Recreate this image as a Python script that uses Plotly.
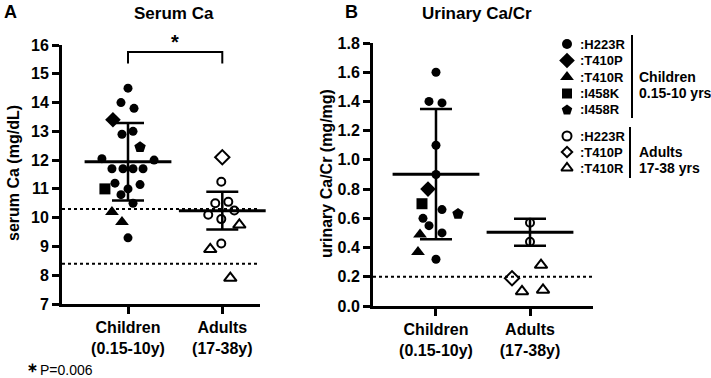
import numpy as np
import plotly.graph_objects as go

W, H = 711, 378
FONT = "Liberation Sans, Arial, sans-serif"

categories = ["Children<br>(0.15-10y)", "Adults<br>(17-38y)"]
genotypes = [":H223R", ":T410P", ":T410R", ":I458K", ":I458R"]

# ---- Panel A: serum Ca (mg/dL) ----
serum_child = {
    ":H223R": [14.5, 14.0, 13.8, 13.0, 12.9, 12.05, 12.0, 11.7, 11.7, 11.7, 11.7, 11.2, 11.15, 11.0, 10.8, 10.5, 9.3],
    ":T410P": [13.4],
    ":T410R": [10.2, 9.85],
    ":I458K": [11.0],
    ":I458R": [12.45],
}
serum_adult = {
    ":H223R": [11.25, 10.55, 10.5, 10.25, 10.1, 9.95, 9.1],
    ":T410P": [12.1],
    ":T410R": [9.75, 8.9, 7.9],
}
# ---- Panel B: urinary Ca/Cr (mg/mg) ----
urine_child = {
    ":H223R": [1.6, 1.4, 1.39, 1.1, 0.9, 0.66, 0.6, 0.55, 0.5, 0.32],
    ":T410P": [0.8],
    ":T410R": [0.49, 0.37],
    ":I458K": [0.7],
    ":I458R": [0.63],
}
urine_adult = {
    ":H223R": [0.57, 0.44],
    ":T410P": [0.19],
    ":T410R": [0.28, 0.1, 0.11],
}
serum_ref_lines = [10.3, 8.4]
urine_ref_lines = [0.2]
p_value_text = "P=0.006"

# horizontal scatter offsets (pixels) to mimic the dot-plot layout
jit_serum_child = {
    ":H223R": [0, -7, 6, 5, -6, -26, 26, -16, -5, 5, 15, -13, 12, 0, -7, 5, 0],
    ":T410P": [-15], ":T410R": [-16, -6], ":I458K": [-23], ":I458R": [12],
}
jit_serum_adult = {":H223R": [-1, 6, -7, 12, -14, -1, -1], ":T410P": [0], ":T410R": [17, -12, 8]}
jit_urine_child = {
    ":H223R": [0, -7, 6, 0, 0, 6, -13, -7, 6, 0],
    ":T410P": [-8], ":T410R": [-16, -18], ":I458K": [-14], ":I458R": [22],
}
jit_urine_adult = {":H223R": [0, 0], ":T410P": [-18], ":T410R": [11, -8, 13]}

PX_PER_CAT = 94.0
sym_child = {":H223R": "circle", ":T410P": "diamond", ":T410R": "triangle-up",
             ":I458K": "square", ":I458R": "pentagon"}
sym_adult = {":H223R": "circle-open", ":T410P": "diamond-open", ":T410R": "triangle-up-open"}
size_of = {":H223R": 9, ":T410P": 12, ":T410R": 12, ":I458K": 11, ":I458R": 12}

fig = go.Figure()


def add_group(data, jit, xpos, symbols, xa, ya, filled):
    for g, vals in data.items():
        xs = [xpos + j / PX_PER_CAT for j in jit[g]]
        fig.add_trace(go.Scatter(
            x=xs, y=vals, mode="markers", xaxis=xa, yaxis=ya, showlegend=False,
            cliponaxis=False, hoverinfo="skip",
            marker=dict(symbol=symbols[g], size=size_of[g] if filled else size_of[g] - 1,
                        color="black", line=dict(color="black", width=0 if filled else 2))))
    # mean +/- SD of H223R
    v = np.array(data[":H223R"])
    m, s = v.mean(), v.std(ddof=1)
    fig.add_trace(go.Scatter(
        x=[xpos], y=[m], mode="markers", xaxis=xa, yaxis=ya, showlegend=False,
        cliponaxis=False, hoverinfo="skip",
        marker=dict(symbol="line-ew", size=62, color="black", line=dict(color="black", width=3)),
        error_y=dict(type="data", array=[s], visible=True, color="black", thickness=2.5, width=16)))


add_group(serum_child, jit_serum_child, 0, sym_child, "x", "y", True)
add_group(serum_adult, jit_serum_adult, 1, sym_adult, "x", "y", False)
add_group(urine_child, jit_urine_child, 0, sym_child, "x2", "y2", True)
add_group(urine_adult, jit_urine_adult, 1, sym_adult, "x2", "y2", False)

# ---- legend via an extra full-page axis in pixel units ----
leg_child_y = [44, 60.5, 77, 93.5, 110]
leg_adult_y = [136, 152, 168]
leg_size_child = [10, 12, 12, 10, 11]
leg_size_adult = [9, 8, 10]
for g, yy, sz in zip(genotypes, leg_child_y, leg_size_child):
    fig.add_trace(go.Scatter(x=[567], y=[yy], mode="markers", xaxis="x3", yaxis="y3",
                             showlegend=False, cliponaxis=False, hoverinfo="skip",
                             marker=dict(symbol=sym_child[g], size=sz, color="black")))
for g, yy, sz in zip(list(sym_adult.keys()), leg_adult_y, leg_size_adult):
    fig.add_trace(go.Scatter(x=[567], y=[yy], mode="markers", xaxis="x3", yaxis="y3",
                             showlegend=False, cliponaxis=False, hoverinfo="skip",
                             marker=dict(symbol=sym_adult[g], size=sz, color="black",
                                         line=dict(color="black", width=2))))

annotations = []


def ann(x, y, text, size=14, bold=True, xanchor="center", angle=0, yanchor="middle"):
    annotations.append(dict(
        x=x / W, y=1 - y / H, xref="paper", yref="paper", text=text, showarrow=False,
        xanchor=xanchor, yanchor=yanchor, textangle=angle,
        font=dict(family=FONT, size=size, color="black", weight="bold" if bold else "normal")))


for g, yy in zip(genotypes, leg_child_y):
    ann(578, yy, g, size=13, xanchor="left")
for g, yy in zip(list(sym_adult.keys()), leg_adult_y):
    ann(578, yy, g, size=13, xanchor="left")
ann(637, 77, "Children", size=14, xanchor="left")
ann(637, 93, "0.15-10 yrs", size=14, xanchor="left")
ann(637, 152, "Adults", size=14, xanchor="left")
ann(637, 168, "17-38 yrs", size=14, xanchor="left")

ann(10, 12, "A", size=18)
ann(351, 12, "B", size=18)
ann(174, 13, "Serum Ca", size=17)
ann(477, 13, "Urinary Ca/Cr", size=17)
ann(13, 173, "serum Ca (mg/dL)", size=16, angle=-90)
ann(327, 174, "urinary Ca/Cr (mg/mg)", size=16, angle=-90)
ann(175, 42, "*", size=20)
ann(32, 377, "\u2217", size=13, yanchor="bottom")
ann(38, 370, p_value_text, size=14, bold=False, xanchor="left")

shapes = []
for v in serum_ref_lines:
    shapes.append(dict(type="line", xref="x domain", yref="y", x0=0, x1=1, y0=v, y1=v,
                       line=dict(color="black", width=2, dash="dot")))
for v in urine_ref_lines:
    shapes.append(dict(type="line", xref="x2 domain", yref="y2", x0=0, x1=1, y0=v, y1=v,
                       line=dict(color="black", width=2, dash="dot")))
# significance bracket
bracket_top, bracket_bottom = 15.76, 15.36
shapes.append(dict(type="path", xref="x", yref="y",
                   path=f"M0,{bracket_bottom} L0,{bracket_top} L1,{bracket_top} L1,{bracket_bottom}",
                   line=dict(color="black", width=2)))
# legend bars
shapes.append(dict(type="line", xref="x3", yref="y3", x0=632, x1=632, y0=35, y1=118,
                   line=dict(color="black", width=2)))
shapes.append(dict(type="line", xref="x3", yref="y3", x0=630, x1=630, y0=127, y1=178,
                   line=dict(color="black", width=2)))

axis_common = dict(showline=True, linewidth=3, linecolor="black", ticks="outside",
                   ticklen=7, tickwidth=3, tickcolor="black", showgrid=False, zeroline=False,
                   automargin=False, fixedrange=True,
                   tickfont=dict(family=FONT, size=16, color="black", weight="bold"))

fig.update_layout(
    template="none",
    width=W, height=H, margin=dict(l=0, r=0, t=0, b=0, pad=0, autoexpand=False),
    paper_bgcolor="white", plot_bgcolor="rgba(0,0,0,0)",
    hovermode=False,
    xaxis=dict(domain=[62 / W, 260 / W], range=[-0.70, 1.40], anchor="y",
               tickvals=[0, 1], ticktext=categories, **axis_common),
    yaxis=dict(domain=[1 - 304 / H, 1 - 45 / H], range=[7, 16], anchor="x",
               tickvals=list(range(7, 17)), **axis_common),
    xaxis2=dict(domain=[373 / W, 593 / W], range=[-0.67, 1.67], anchor="y2",
                tickvals=[0, 1], ticktext=categories, **axis_common),
    yaxis2=dict(domain=[1 - 306 / H, 1 - 43 / H], range=[0, 1.8], anchor="x2",
                tickvals=[0, 0.2, 0.4, 0.6, 0.8, 1.0, 1.2, 1.4, 1.6, 1.8], tickformat=".1f",
                **axis_common),
    xaxis3=dict(domain=[0, 1], range=[0, W], visible=False, anchor="y3", automargin=False,
                fixedrange=True),
    yaxis3=dict(domain=[0, 1], range=[H, 0], visible=False, anchor="x3", automargin=False,
                fixedrange=True),
    annotations=annotations, shapes=shapes, showlegend=False,
)

# the page's default 8px body margin would shift the figure; remove it
fig.write_html("out.html", config={"displayModeBar": False},
               post_script="document.body.style.margin='0px';")
